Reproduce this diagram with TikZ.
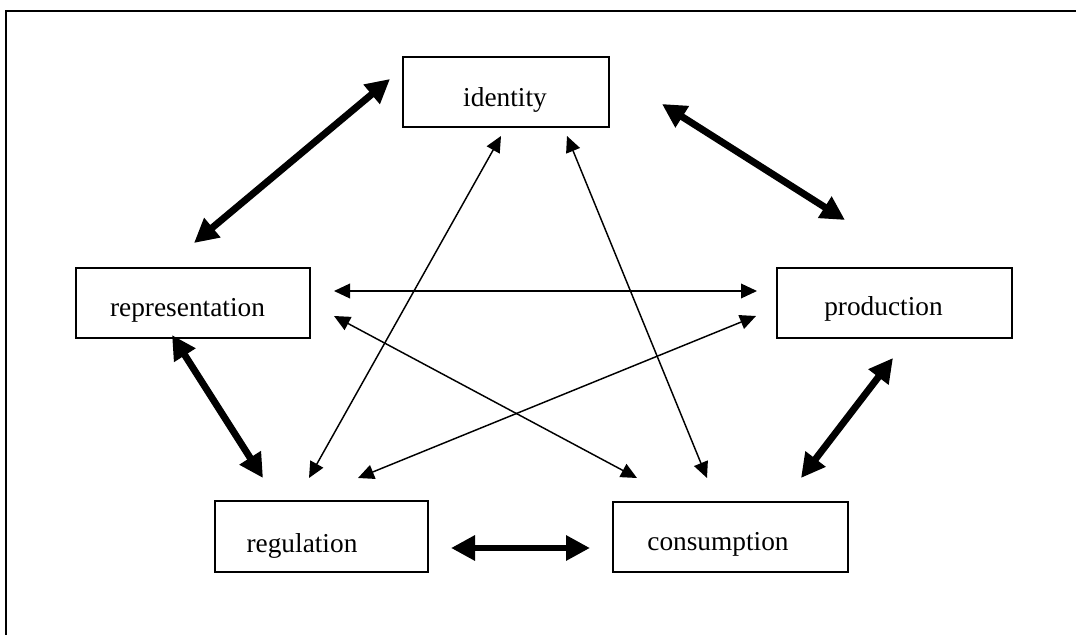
\documentclass[tikz,border=0pt]{standalone}
\usepackage{fontspec}
\setmainfont{Liberation Serif}
\usetikzlibrary{arrows.meta}
\tikzset{
  box/.style={draw, line width=1.1pt, minimum height=52.5pt, inner sep=0pt},
  lbl/.style={inner sep=0pt, font=\fontsize{20.5}{24}\selectfont},
  thin/.style={line width=1.1pt, {Triangle[length=12pt,width=11pt]}-{Triangle[length=12pt,width=11pt]}},
  thick/.style={line width=5.2pt, {Triangle[length=18pt,width=18pt]}-{Triangle[length=18pt,width=18pt]}},
  frame/.style={line width=1.8pt}
}
\begin{document}
\begin{tikzpicture}[x=0.75pt,y=-0.75pt]
\useasboundingbox (0,0) rectangle (1076,635);
% frame
\coordinate (f1) at (6,640);
\coordinate (f2) at (6,11);
\coordinate (f3) at (1080,11);
\draw[frame] (f1) -- (f2) -- (f3);
% boxes
\node[box, minimum width=154.5pt] (identity) at (506,92) {};
\node[box, minimum width=175.5pt] (representation) at (193,303) {};
\node[box, minimum width=176.25pt] (production) at (894.5,303) {};
\node[box, minimum width=159.75pt, minimum height=53.25pt] (regulation) at (321.5,536.5) {};
\node[box, minimum width=176.25pt] (consumption) at (730.5,537) {};
% labels
\node[lbl] (identityT) at (505,100) {identity};
\node[lbl] (representationT) at (187.5,310) {representation};
\node[lbl] (productionT) at (883.5,309) {production};
\node[lbl] (regulationT) at (302,546) {regulation};
\node[lbl] (consumptionT) at (718,544) {consumption};
% arrow end points
\coordinate (idL) at (390,79);   \coordinate (repT) at (194,243);
\coordinate (idR) at (662,104);  \coordinate (proT) at (845,220);
\coordinate (repB) at (172,335); \coordinate (regTL) at (263,478);
\coordinate (proB) at (893,358); \coordinate (conTR) at (801,478);
\coordinate (regR) at (451,548); \coordinate (conL) at (590,548);
\coordinate (repR1) at (334,291); \coordinate (proL1) at (757,291);
\coordinate (repR2) at (334,316); \coordinate (conTL) at (637,478);
\coordinate (idB1) at (501,136); \coordinate (regT1) at (309,478);
\coordinate (idB2) at (567,136); \coordinate (conT1) at (707,478);
\coordinate (proL2) at (756,316); \coordinate (regT2) at (358,478);
% thick arrows
\draw[thick] (idL) -- (repT);
\draw[thick] (idR) -- (proT);
\draw[thick] (repB) -- (regTL);
\draw[thick] (proB) -- (conTR);
\draw[thick] (regR) -- (conL);
% thin arrows
\draw[thin] (repR1) -- (proL1);
\draw[thin] (repR2) -- (conTL);
\draw[thin] (idB1) -- (regT1);
\draw[thin] (idB2) -- (conT1);
\draw[thin] (proL2) -- (regT2);
\end{tikzpicture}
\end{document}
